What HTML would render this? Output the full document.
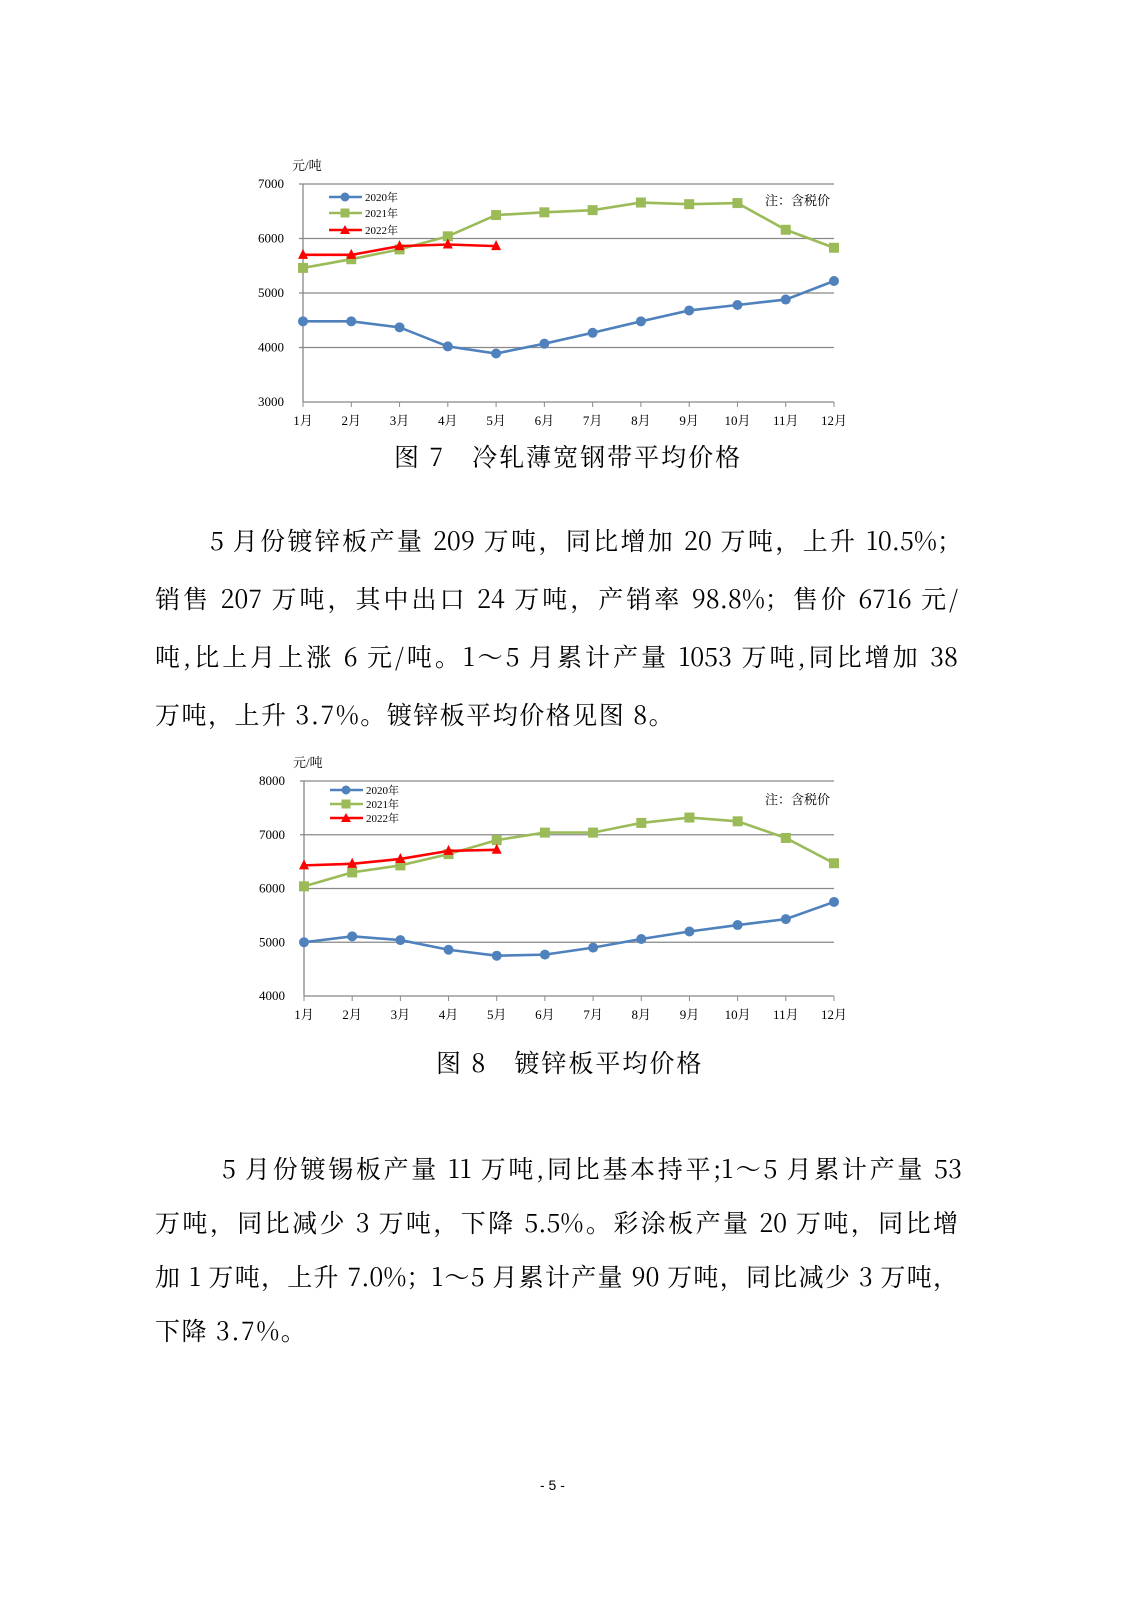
<!DOCTYPE html>
<html><head><meta charset="utf-8">
<style>
body{margin:0;background:#fff;}
#pg{position:relative;width:1131px;height:1600px;overflow:hidden;background:#fff;font-family:"Liberation Serif","Noto Serif CJK SC",serif;color:#000;}
.l{position:absolute;font-size:25px;line-height:30px;white-space:nowrap;font-family:"Noto Serif CJK SC","Liberation Serif",serif;}
.j{text-align:justify;text-align-last:justify;}
svg{position:absolute;left:0;top:0;}
svg text{font-family:"Liberation Serif","Noto Serif CJK SC",serif;}
</style></head><body>
<div id="pg">
<svg id="s" width="1131" height="1600"></svg>
<div class="l" style="left:394px;top:441px;letter-spacing:2px;">图 7　冷轧薄宽钢带平均价格</div>
<div class="l j" style="left:210px;top:525px;width:752px;">5 月份镀锌板产量 209 万吨，同比增加 20 万吨，上升 10.5%；</div>
<div class="l j" style="left:155px;top:583px;width:803px;">销售 207 万吨，其中出口 24 万吨，产销率 98.8%；售价 6716 元/</div>
<div class="l j" style="left:155px;top:641px;width:803px;">吨,比上月上涨 6 元/吨。1～5 月累计产量 1053 万吨,同比增加 38</div>
<div class="l" style="left:155px;top:699px;letter-spacing:1.5px;">万吨，上升 3.7%。镀锌板平均价格见图 8。</div>
<div class="l" style="left:436px;top:1047px;letter-spacing:2px;">图 8　镀锌板平均价格</div>
<div class="l j" style="left:222px;top:1153px;width:740px;">5 月份镀锡板产量 11 万吨,同比基本持平;1～5 月累计产量 53</div>
<div class="l j" style="left:155px;top:1207px;width:803px;">万吨，同比减少 3 万吨，下降 5.5%。彩涂板产量 20 万吨，同比增</div>
<div class="l j" style="left:155px;top:1261px;width:803px;">加 1 万吨，上升 7.0%；1～5 月累计产量 90 万吨，同比减少 3 万吨，</div>
<div class="l" style="left:155px;top:1315px;letter-spacing:1.5px;">下降 3.7%。</div>
<div class="l" style="left:540px;top:1470px;font-size:14px;font-family:'Liberation Sans',sans-serif;">- 5 -</div>
</div>
<script>
var s=document.getElementById('s'),h='';
function chart(L,R,yTop,yBot,vMax,vMin,ticks,d20,d21,d22,legY,noteY){
 var st=(R-L)/11,k=(yBot-yTop)/(vMax-vMin);
 function X(i){return L+i*st}function Y(v){return yTop+(vMax-v)*k}
 ticks.forEach(function(t){var y=Y(t);
  if(t!=vMin)h+='<line x1="'+(L-4)+'" y1="'+y+'" x2="'+R+'" y2="'+y+'" stroke="#888" stroke-width="1.3"/>';
  h+='<text x="'+(L-19)+'" y="'+(y+4)+'" font-size="13" text-anchor="end">'+t+'</text>';});
 h+='<line x1="'+L+'" y1="'+yTop+'" x2="'+L+'" y2="'+yBot+'" stroke="#888" stroke-width="1.3"/>';
 h+='<line x1="'+L+'" y1="'+yBot+'" x2="'+R+'" y2="'+yBot+'" stroke="#888" stroke-width="1.3"/>';
 for(var i=0;i<12;i++){h+='<line x1="'+X(i)+'" y1="'+yBot+'" x2="'+X(i)+'" y2="'+(yBot+5)+'" stroke="#888"/>';
  h+='<text x="'+X(i)+'" y="'+(yBot+23)+'" font-size="13" text-anchor="middle">'+(i+1)+'月</text>';}
 h+='<text x="'+(L-11)+'" y="'+(yTop-14)+'" font-size="13">元/吨</text>';
 h+='<text x="'+(R-4)+'" y="'+noteY+'" font-size="13" text-anchor="end">注：含税价</text>';
 function poly(d,c){return '<polyline fill="none" stroke="'+c+'" stroke-width="2.6" points="'+d.map(function(v,i){return X(i)+','+Y(v)}).join(' ')+'"/>'}
 h+=poly(d21,'#9bbb59');d21.forEach(function(v,i){h+='<rect x="'+(X(i)-5)+'" y="'+(Y(v)-5)+'" width="10" height="10" fill="#9bbb59"/>'});
 h+=poly(d20,'#4f81bd');d20.forEach(function(v,i){h+='<circle cx="'+X(i)+'" cy="'+Y(v)+'" r="5" fill="#4f81bd"/>'});
 h+=poly(d22,'#ff0000');d22.forEach(function(v,i){var x=X(i),y=Y(v);h+='<polygon points="'+(x-5)+','+(y+4)+' '+(x+5)+','+(y+4)+' '+x+','+(y-6)+'" fill="#ff0000"/>'});
 var c=['#4f81bd','#9bbb59','#ff0000'],n=['2020年','2021年','2022年'];
 for(var j=0;j<3;j++){var y=legY[j],x0=L+26;
  h+='<line x1="'+x0+'" y1="'+y+'" x2="'+(x0+33)+'" y2="'+y+'" stroke="'+c[j]+'" stroke-width="2.6"/>';
  var m=x0+16;
  if(j==0)h+='<circle cx="'+m+'" cy="'+y+'" r="4.5" fill="'+c[0]+'"/>';
  if(j==1)h+='<rect x="'+(m-4.5)+'" y="'+(y-4.5)+'" width="9" height="9" fill="'+c[1]+'"/>';
  if(j==2)h+='<polygon points="'+(m-5)+','+(y+4)+' '+(m+5)+','+(y+4)+' '+m+','+(y-5)+'" fill="'+c[2]+'"/>';
  h+='<text x="'+(x0+36)+'" y="'+(y+4)+'" font-size="11">'+n[j]+'</text>';}
}
chart(303,834,184,402,7000,3000,[7000,6000,5000,4000,3000],
 [4480,4480,4370,4020,3890,4070,4270,4480,4680,4780,4880,5220],
 [5460,5620,5800,6040,6430,6480,6520,6660,6630,6650,6160,5830],
 [5700,5700,5860,5890,5860],[197,213,230],205);
chart(304,834,781,996,8000,4000,[8000,7000,6000,5000,4000],
 [5000,5110,5040,4860,4750,4770,4900,5060,5200,5320,5430,5750],
 [6040,6300,6430,6640,6900,7040,7040,7220,7320,7250,6940,6470],
 [6430,6460,6550,6700,6720],[790,804,818],804);
s.innerHTML=h;
</script>
</body></html>
